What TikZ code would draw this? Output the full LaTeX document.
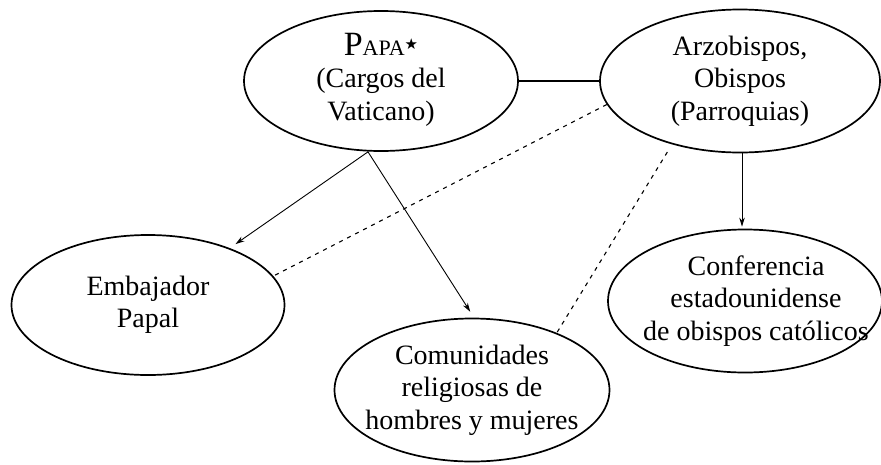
\documentclass[tikz,border=0pt]{standalone}
\usepackage{fontspec}
\setmainfont{Liberation Serif}
\newfontfamily\symfont{DejaVu Sans}
\usetikzlibrary{shapes.geometric,arrows.meta}
\newcommand\ovaltext[2][0pt]{\makebox[0pt]{\hspace*{#1}\begin{tabular}{@{}c@{}}#2\end{tabular}}}
\begin{document}
\begin{tikzpicture}[x=1pt,y=-1pt,
  oval/.style={ellipse,draw,line width=1.7pt,inner sep=0pt,
    font=\fontsize{28}{32.5}\selectfont},
  arr/.style={line width=0.9pt,-{Stealth[length=9pt,width=5.5pt]},shorten >=7pt},
  dsh/.style={line width=1.1pt,dash pattern=on 4pt off 5pt},
  solidlink/.style={line width=1.7pt}]
\useasboundingbox (0,0) rectangle (881,464);

\node[oval,minimum width=274pt,minimum height=140pt] (papa) at (381,81)
  {\ovaltext{{\fontsize{34}{32.5}\selectfont P}{\fontsize{22}{32.5}\selectfont APA}\raisebox{6pt}{\symfont\fontsize{15}{15}\selectfont ★}\\(Cargos del\\Vaticano)}};
\node[oval,minimum width=280pt,minimum height=143pt] (arzo) at (740,81)
  {\ovaltext{Arzobispos,\\Obispos\\(Parroquias)}};
\node[oval,minimum width=273pt,minimum height=140pt] (emb) at (148,305)
  {\ovaltext{Embajador\\Papal}};
\node[oval,minimum width=275pt,minimum height=143pt] (com) at (472,390)
  {\ovaltext{Comunidades\\religiosas de\\hombres y mujeres}};
\node[oval,minimum width=274pt,minimum height=143pt] (conf) at (745,301)
  {\ovaltext[22pt]{Conferencia\\estadounidense\\de obispos católicos}};

\draw[solidlink] (papa.east) -- (arzo.west);
\coordinate (ps) at ([xshift=-13pt]papa.south);
\draw[arr] (ps) -- (emb);
\draw[arr] (ps) -- ([xshift=2pt]com.north);
\draw[arr,shorten >=2pt] ([xshift=2pt]arzo.south) -- ([xshift=2pt]arzo.south |- conf.north);
\draw[dsh] (arzo.190) -- (emb.13);
\draw[dsh,shorten <=9pt] (arzo.223) -- (com.34);
\end{tikzpicture}
\end{document}
